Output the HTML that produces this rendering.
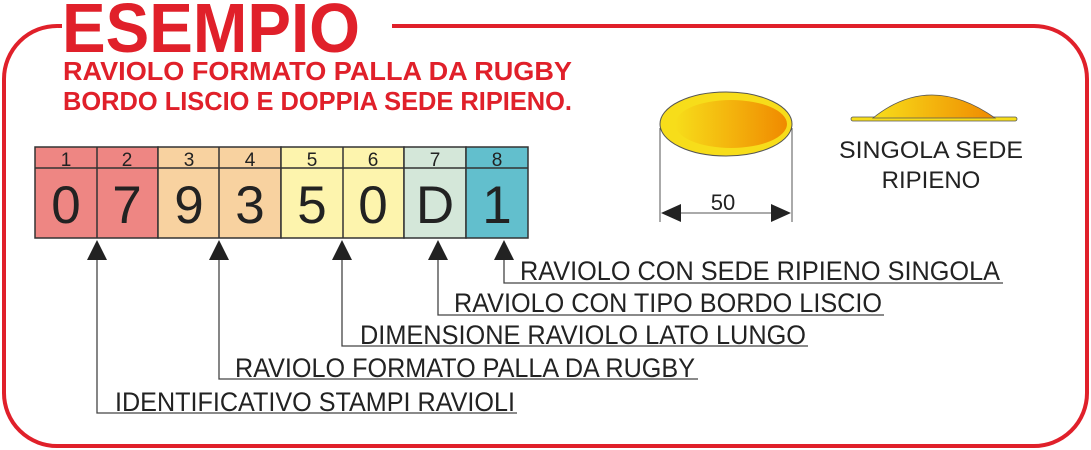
<!DOCTYPE html>
<html><head><meta charset="utf-8"><style>html,body{margin:0;padding:0;background:#fff}svg{display:block}</style></head>
<body>
<svg width="1091" height="450" viewBox="0 0 1091 450" xmlns="http://www.w3.org/2000/svg" font-family="Liberation Sans, Arial, sans-serif">
<defs>
<linearGradient id="g" x1="0" x2="1" y1="0" y2="0"><stop offset="0" stop-color="#f7dd1a"/><stop offset="1" stop-color="#f08a00"/></linearGradient>
</defs>
<path d="M58 26 H1033 A53 53 0 0 1 1087 79 V393 A53 53 0 0 1 1033 446 H58 A53 53 0 0 1 4 393 V79 A53 53 0 0 1 58 26" fill="none" stroke="#e0202a" stroke-width="4"/>
<rect x="62" y="0" width="330" height="40" fill="#fff"/>
<text x="62" y="52" font-size="70" font-weight="bold" fill="#e0202a" textLength="298" lengthAdjust="spacingAndGlyphs">ESEMPIO</text>
<text x="63" y="80" font-size="26" font-weight="bold" fill="#e0202a" textLength="509" lengthAdjust="spacingAndGlyphs">RAVIOLO  FORMATO  PALLA  DA  RUGBY</text>
<text x="63" y="110" font-size="26" font-weight="bold" fill="#e0202a" textLength="509" lengthAdjust="spacingAndGlyphs">BORDO LISCIO E DOPPIA SEDE RIPIENO.</text>
<g stroke="#333" stroke-width="1.5">
<rect x="35" y="147" width="123" height="91" fill="#ee8683"/>
<rect x="158" y="147" width="123" height="91" fill="#f8d2a0"/>
<rect x="281" y="147" width="123" height="91" fill="#fdf4ad"/>
<rect x="404" y="147" width="62" height="91" fill="#d4e7d9"/>
<rect x="466" y="147" width="62" height="91" fill="#62bfcd"/>
<line x1="35" y1="168" x2="528" y2="168"/>
<line x1="97" y1="147" x2="97" y2="238"/><line x1="219" y1="147" x2="219" y2="238"/><line x1="343" y1="147" x2="343" y2="238"/>
</g>
<g font-size="19" fill="#222" text-anchor="middle">
<text x="66" y="166">1</text><text x="127" y="166">2</text><text x="189" y="166">3</text><text x="250" y="166">4</text><text x="312" y="166">5</text><text x="373" y="166">6</text><text x="435" y="166">7</text><text x="497" y="166">8</text>
</g>
<g font-size="53" fill="#222" text-anchor="middle">
<text x="66" y="223">0</text><text x="127" y="223">7</text><text x="189" y="223">9</text><text x="250" y="223">3</text><text x="312" y="223">5</text><text x="373" y="223">0</text><text x="435" y="223">D</text><text x="497" y="223">1</text>
</g>
<g stroke="#444" stroke-width="1.3" fill="none">
<polyline points="97,258 97,413 517,413"/>
<polyline points="219,258 219,379 698,379"/>
<polyline points="342,258 342,346 808,346"/>
<polyline points="438,258 438,315 884,315"/>
<polyline points="504,258 504,283 1003,283"/>
</g>
<g fill="#222">
<polygon points="97,240 87,260 107,260"/><polygon points="219,240 209,260 229,260"/><polygon points="342,240 332,260 352,260"/><polygon points="438,240 428,260 448,260"/><polygon points="504,240 494,260 514,260"/>
</g>
<g font-size="27" fill="#222">
<text x="115" y="411" textLength="400" lengthAdjust="spacingAndGlyphs">IDENTIFICATIVO STAMPI RAVIOLI</text>
<text x="235" y="377" textLength="460" lengthAdjust="spacingAndGlyphs">RAVIOLO FORMATO PALLA DA RUGBY</text>
<text x="360" y="344" textLength="446" lengthAdjust="spacingAndGlyphs">DIMENSIONE RAVIOLO LATO LUNGO</text>
<text x="454" y="312" textLength="428" lengthAdjust="spacingAndGlyphs">RAVIOLO CON TIPO BORDO LISCIO</text>
<text x="520" y="280" textLength="480" lengthAdjust="spacingAndGlyphs">RAVIOLO CON SEDE RIPIENO SINGOLA</text>
</g>
<ellipse cx="726" cy="124" rx="66" ry="32" fill="#f7dd1a" stroke="#555" stroke-width="1"/>
<ellipse cx="731" cy="124" rx="56" ry="24" fill="url(#g)"/>
<g stroke="#555" stroke-width="1"><line x1="660" y1="128" x2="660" y2="222"/><line x1="792" y1="128" x2="792" y2="222"/><line x1="665" y1="213" x2="788" y2="213"/></g>
<polygon points="661,213 681,204 681,222" fill="#222"/><polygon points="791,213 771,204 771,222" fill="#222"/>
<text x="723" y="210" font-size="22" fill="#222" text-anchor="middle">50</text>
<rect x="851" y="117" width="166" height="4" rx="2" fill="#f7dd1a" stroke="#555" stroke-width="0.8"/>
<path d="M873 118 Q930 72 995 118 Z" fill="url(#g)" stroke="#555" stroke-width="0.8"/>
<g font-size="24" fill="#222" text-anchor="middle"><text x="931" y="158" textLength="184" lengthAdjust="spacingAndGlyphs">SINGOLA SEDE</text><text x="931" y="188">RIPIENO</text></g>
</svg>
</body></html>
